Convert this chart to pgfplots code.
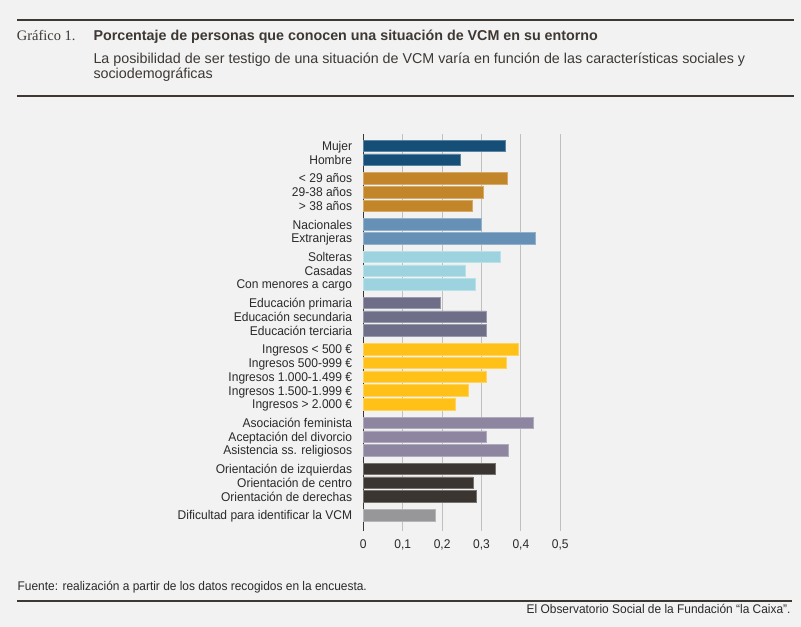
\documentclass[border=0pt]{standalone}
\usepackage{fontspec}
\setmainfont{Liberation Sans}
\newfontfamily\labelfont{Liberation Sans}[FakeStretch=0.95]
\newfontfamily\seriffont{Liberation Serif}
\usepackage{pgfplots}
\pgfplotsset{compat=1.18}
\definecolor{bgc}{HTML}{F2F2F2}
\definecolor{rulec}{HTML}{3D3834}
\definecolor{txtc}{HTML}{2A2A2A}
\definecolor{gridc}{HTML}{C0C0C0}
\definecolor{cA}{HTML}{154F78}
\definecolor{cB}{HTML}{C2852A}
\definecolor{cC}{HTML}{6690B5}
\definecolor{cD}{HTML}{9CD3DE}
\definecolor{cE}{HTML}{6E6E89}
\definecolor{cF}{HTML}{FFC117}
\definecolor{cG}{HTML}{8E85A1}
\definecolor{cH}{HTML}{3A3531}
\definecolor{cI}{HTML}{97979A}
\begin{document}
\begin{tikzpicture}[x=1bp,y=1bp]
\fill[bgc] (0,0) rectangle (801,627);
\draw[rulec, line width=1.8bp] (17.3,607) -- (794,607);
\node[anchor=base west, inner sep=0, text=rulec, font=\seriffont\fontsize{14.5}{17}\selectfont] at (16.7,586.3) {Gráfico 1.};
\node[anchor=base west, inner sep=0, text=rulec, font=\bfseries\fontsize{14.35}{17}\selectfont] at (93.3,586.3) {Porcentaje de personas que conocen una situación de VCM en su entorno};
\node[anchor=base west, inner sep=0, text=rulec, font=\fontsize{14.35}{17}\selectfont] at (93.3,563.7) {La posibilidad de ser testigo de una situación de VCM varía en función de las características sociales y};
\node[anchor=base west, inner sep=0, text=rulec, font=\fontsize{14.35}{17}\selectfont] at (93.3,548.7) {sociodemográficas};
\draw[rulec, line width=1.8bp] (17.3,531.3) -- (794,531.3);
\begin{axis}[
  at={(363.3bp,96bp)}, anchor=south west,
  scale only axis, width=197bp, height=397bp,
  xmin=0, xmax=0.5, ymin=-0.87, ymax=27.96, y dir=reverse,
  xbar, bar width=11.5bp, bar shift=0pt,
  axis x line*=bottom, axis y line*=left,
  x axis line style={draw=none},
  y axis line style={draw=rulec, line width=1.3bp},
  major tick length=0pt,
  xtick={0,0.1,0.2,0.3,0.4,0.5},
  xticklabels={0,{0,1},{0,2},{0,3},{0,4},{0,5}},
  ytick={0,1,2.35,3.35,4.35,5.7,6.7,8.05,9.05,10.05,11.4,12.4,13.4,14.75,15.75,16.75,17.75,18.75,20.1,21.1,22.1,23.45,24.45,25.45,26.8},
  yticklabels={Mujer,Hombre,{< 29 años},{29-38 años},{> 38 años},Nacionales,Extranjeras,Solteras,Casadas,{Con menores a cargo},{Educación primaria},{Educación secundaria},{Educación terciaria},{Ingresos < 500 €},{Ingresos 500-999 €},{Ingresos 1.000-1.499 €},{Ingresos 1.500-1.999 €},{Ingresos > 2.000 €},{Asociación feminista},{Aceptación del divorcio},{Asistencia ss. religiosos},{Orientación de izquierdas},{Orientación de centro},{Orientación de derechas},{Dificultad para identificar la VCM}},
  tick label style={font=\labelfont\fontsize{12.7}{14}\selectfont, text=txtc},
  yticklabel style={anchor=base east, inner sep=0pt, xshift=-11bp, yshift=-4.6bp},
  xticklabel style={anchor=base, inner sep=0pt, yshift=-17.3bp},
  xmajorgrids, grid style={gridc, line width=1bp},
  clip=false,
]
\addplot[fill=cA, draw=cA!70!white, line width=0.5bp] coordinates {(0.360,0) (0.245,1)};
\addplot[fill=cB, draw=cB!70!white, line width=0.5bp] coordinates {(0.365,2.35) (0.305,3.35) (0.276,4.35)};
\addplot[fill=cC, draw=cC!70!white, line width=0.5bp] coordinates {(0.299,5.7) (0.437,6.7)};
\addplot[fill=cD, draw=cD!70!white, line width=0.5bp] coordinates {(0.348,8.05) (0.259,9.05) (0.284,10.05)};
\addplot[fill=cE, draw=cE!70!white, line width=0.5bp] coordinates {(0.196,11.4) (0.311,12.4) (0.312,13.4)};
\addplot[fill=cF, draw=cF!70!white, line width=0.5bp] coordinates {(0.394,14.75) (0.363,15.75) (0.312,16.75) (0.266,17.75) (0.234,18.75)};
\addplot[fill=cG, draw=cG!70!white, line width=0.5bp] coordinates {(0.432,20.1) (0.311,21.1) (0.367,22.1)};
\addplot[fill=cH, draw=cH!70!white, line width=0.5bp] coordinates {(0.336,23.45) (0.278,24.45) (0.287,25.45)};
\addplot[fill=cI, draw=cI!70!white, line width=0.5bp] coordinates {(0.183,26.8)};
\end{axis}
\node[anchor=base west, inner sep=0, text=txtc, font=\labelfont\fontsize{12.6}{14}\selectfont] at (17.5,36) {Fuente: realización a partir de los datos recogidos en la encuesta.};
\draw[rulec, line width=1.8bp] (17.3,26) -- (792.3,26);
\node[anchor=base east, inner sep=0, text=txtc, font=\labelfont\fontsize{12.6}{14}\selectfont] at (790.7,13) {El Observatorio Social de la Fundación “la Caixa”.};
\end{tikzpicture}
\end{document}
